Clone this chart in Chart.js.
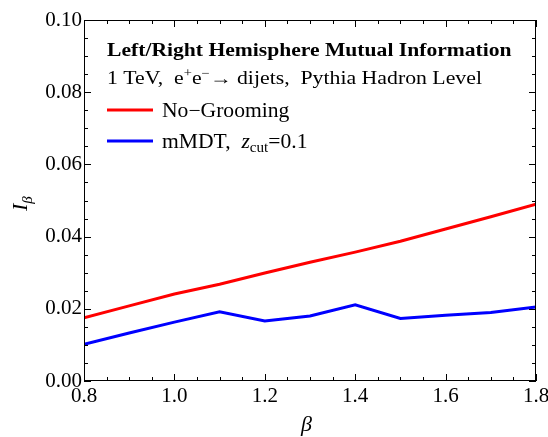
<!DOCTYPE html>
<html>
<head>
<meta charset="utf-8">
<script src="https://cdn.jsdelivr.net/npm/chart.js@4.4.1/dist/chart.umd.min.js"></script>
<style>
    html, body { margin: 0; padding: 0; background: #fff; }
    #wrap { width: 548px; height: 437px; }
</style>
</head>
<body>
<div id="wrap"><canvas id="miChart" width="548" height="437"></canvas></div>
<script>
// beta values and I_beta per series
const betaValues = [0.8, 0.9, 1.0, 1.1, 1.2, 1.3, 1.4, 1.5, 1.6, 1.7, 1.8];
const noGrooming = [0.0175, 0.0208, 0.0241, 0.0268, 0.0299, 0.0329, 0.0357, 0.0387, 0.0421, 0.0455, 0.0490];
const mmdt = [0.0102, 0.0133, 0.0163, 0.0192, 0.0166, 0.0180, 0.0211, 0.0173, 0.0182, 0.0190, 0.0205];

const xTicks = [0.8, 1.0, 1.2, 1.4, 1.6, 1.8];
const yTicks = [0.00, 0.02, 0.04, 0.06, 0.08, 0.10];

const SERIF = '"Liberation Serif", "DejaVu Serif", serif';

function toPoints(ys) {
    return betaValues.map((b, i) => ({ x: b, y: ys[i] }));
}

// draws a run of text pieces with their own fonts / vertical offsets,
// optionally stretched horizontally
function drawRuns(ctx, x, y, runs, sx = 1) {
    ctx.save();
    ctx.translate(x, y);
    ctx.scale(sx, 1);
    let cx = 0;
    runs.forEach(r => {
        ctx.font = r.font;
        ctx.fillText(r.text, cx, r.dy || 0);
        cx += ctx.measureText(r.text).width;
    });
    ctx.restore();
}

const framePlugin = {
    id: 'frame',
    afterDraw(chart) {
        const ctx = chart.ctx;
        const a = chart.chartArea;
        const xs = chart.scales.x;
        const ys = chart.scales.y;
        ctx.save();
        ctx.strokeStyle = '#000';
        ctx.lineWidth = 1;
        ctx.strokeRect(a.left + 0.5, a.top + 0.5, a.right - a.left - 1, a.bottom - a.top - 1);

        // inward ticks on all four sides
        ctx.beginPath();
        for (let i = 0; i <= 20; i++) {
            const v = 0.8 + i * 0.05;
            const px = Math.round(xs.getPixelForValue(v)) + 0.5;
            const len = i % 4 === 0 ? 7 : 4;
            ctx.moveTo(px, a.bottom); ctx.lineTo(px, a.bottom - len);
            ctx.moveTo(px, a.top); ctx.lineTo(px, a.top + len);
        }
        for (let i = 0; i <= 20; i++) {
            const v = i * 0.005;
            const py = Math.round(ys.getPixelForValue(v)) + 0.5;
            const len = i % 4 === 0 ? 7 : 4;
            ctx.moveTo(a.left, py); ctx.lineTo(a.left + len, py);
            ctx.moveTo(a.right, py); ctx.lineTo(a.right - len, py);
        }
        ctx.stroke();

        // axis titles
        ctx.fillStyle = '#000';
        ctx.textBaseline = 'alphabetic';
        ctx.textAlign = 'left';
        ctx.font = 'italic 22px ' + SERIF;
        ctx.fillText('\u03B2', 301, 431);

        ctx.save();
        ctx.translate(27, 211);
        ctx.rotate(-Math.PI / 2);
        drawRuns(ctx, 0, 0, [
            { text: 'I', font: 'italic 22px ' + SERIF },
            { text: '\u03B2', font: 'italic 15px ' + SERIF, dy: 5 }
        ]);
        ctx.restore();

        // legend block
        drawRuns(ctx, 107, 56, [
            { text: 'Left/Right Hemisphere Mutual Information', font: 'bold 18px ' + SERIF }
        ], 1.2);

        drawRuns(ctx, 107, 84, [
            { text: '1 TeV,  e', font: '18px ' + SERIF },
            { text: '+', font: '12px ' + SERIF, dy: -7 },
            { text: 'e', font: '18px ' + SERIF },
            { text: '\u2212', font: '12px ' + SERIF, dy: -7 },
            { text: '\u2192 dijets,  Pythia Hadron Level', font: '18px ' + SERIF }
        ], 1.21);

        const items = chart.data.datasets;
        const rowY = [110, 141];
        items.forEach((ds, i) => {
            ctx.strokeStyle = ds.borderColor;
            ctx.lineWidth = 3;
            ctx.beginPath();
            ctx.moveTo(107, rowY[i]);
            ctx.lineTo(153, rowY[i]);
            ctx.stroke();
        });
        ctx.fillStyle = '#000';
        drawRuns(ctx, 162, 117, [{ text: items[0].label, font: '20px ' + SERIF }], 1.08);
        drawRuns(ctx, 162, 148, [
            { text: 'mMDT,  ', font: '20px ' + SERIF },
            { text: 'z', font: 'italic 20px ' + SERIF },
            { text: 'cut', font: '14px ' + SERIF, dy: 4 },
            { text: '=0.1', font: '20px ' + SERIF }
        ], 1.08);
        ctx.restore();
    }
};

new Chart(document.getElementById('miChart'), {
    type: 'line',
    data: {
        datasets: [
            {
                label: 'No\u2212Grooming',
                data: toPoints(noGrooming),
                borderColor: '#ff0000',
                borderWidth: 3,
                pointRadius: 0,
                tension: 0
            },
            {
                label: 'mMDT, z_cut=0.1',
                data: toPoints(mmdt),
                borderColor: '#0000ff',
                borderWidth: 3,
                pointRadius: 0,
                tension: 0
            }
        ]
    },
    options: {
        responsive: false,
        animation: false,
        layout: { padding: { left: 0, top: 20, right: 12, bottom: 0 } },
        plugins: {
            legend: { display: false },
            tooltip: { enabled: false }
        },
        scales: {
            x: {
                type: 'linear',
                min: 0.8,
                max: 1.8,
                grid: { display: false, drawTicks: false },
                border: { display: false },
                afterBuildTicks: s => { s.ticks = xTicks.map(v => ({ value: v })); },
                afterFit: s => { s.height = 56; s.paddingLeft = 0; s.paddingRight = 0; },
                ticks: {
                    padding: 3,
                    color: '#000',
                    maxRotation: 0,
                    font: { family: SERIF, size: 21 },
                    callback: v => v.toFixed(1)
                }
            },
            y: {
                min: 0,
                max: 0.1,
                grid: { display: false, drawTicks: false },
                border: { display: false },
                afterBuildTicks: s => { s.ticks = yTicks.map(v => ({ value: v })); },
                afterFit: s => { s.width = 84; s.paddingTop = 0; s.paddingBottom = 0; },
                ticks: {
                    padding: 2,
                    color: '#000',
                    font: { family: SERIF, size: 21 },
                    callback: v => v.toFixed(2)
                }
            }
        }
    },
    plugins: [framePlugin]
});
</script>
</body>
</html>
